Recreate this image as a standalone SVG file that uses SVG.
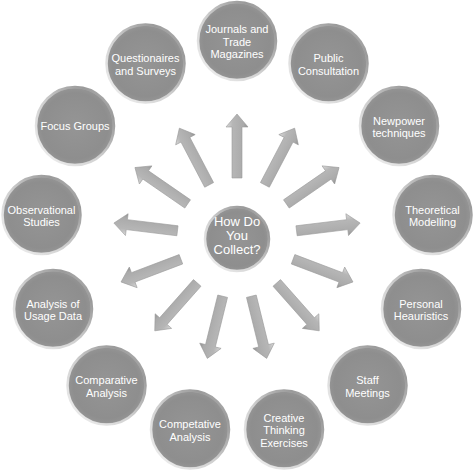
<svg xmlns="http://www.w3.org/2000/svg" xmlns:xlink="http://www.w3.org/1999/xlink" width="474" height="474" viewBox="0 0 474 474">
<style>
.node circle{fill:url(#ballFill);stroke:url(#rim);stroke-width:2.5}
.node text{font-family:"Liberation Sans",Arial,sans-serif;font-size:11px;fill:#ffffff;text-anchor:middle}
.center text{font-size:13px}
.arrow{fill:url(#arrowFill);stroke:#9a9a9a;stroke-width:0.6}
</style>
<defs>
<radialGradient id="ballFill" cx="0.5" cy="0.5" r="0.5">
<stop offset="0" stop-color="#959595"/>
<stop offset="0.85" stop-color="#8e8e8e"/>
<stop offset="0.95" stop-color="#939393"/>
<stop offset="1" stop-color="#b4b4b4"/>
</radialGradient>
<linearGradient id="rim" x1="0" y1="1" x2="1" y2="0">
<stop offset="0" stop-color="#f4f4f4"/>
<stop offset="0.45" stop-color="#d0d0d0"/>
<stop offset="0.8" stop-color="#9a9a9a"/>
<stop offset="1" stop-color="#c0c0c0"/>
</linearGradient>
<linearGradient id="arrowFill" x1="0" y1="0" x2="0" y2="1">
<stop offset="0" stop-color="#dadada"/>
<stop offset="0.3" stop-color="#b6b6b6"/>
<stop offset="0.8" stop-color="#aaaaaa"/>
<stop offset="1" stop-color="#8e8e8e"/>
</linearGradient>
<path id="arr" d="M60,-5 L111,-5 L111,-11 L124,0 L111,11 L111,5 L60,5 Z"/>
</defs>
<g id="connectors">
<use xlink:href="#arr" class="arrow" transform="translate(237,238) rotate(-90)"/>
<use xlink:href="#arr" class="arrow" transform="translate(237,238) rotate(-62.31)"/>
<use xlink:href="#arr" class="arrow" transform="translate(237,238) rotate(-34.62)"/>
<use xlink:href="#arr" class="arrow" transform="translate(237,238) rotate(-6.92)"/>
<use xlink:href="#arr" class="arrow" transform="translate(237,238) rotate(20.77)"/>
<use xlink:href="#arr" class="arrow" transform="translate(237,238) rotate(48.46)"/>
<use xlink:href="#arr" class="arrow" transform="translate(237,238) rotate(76.15)"/>
<use xlink:href="#arr" class="arrow" transform="translate(237,238) rotate(103.85)"/>
<use xlink:href="#arr" class="arrow" transform="translate(237,238) rotate(131.54)"/>
<use xlink:href="#arr" class="arrow" transform="translate(237,238) rotate(159.23)"/>
<use xlink:href="#arr" class="arrow" transform="translate(237,238) rotate(186.92)"/>
<use xlink:href="#arr" class="arrow" transform="translate(237,238) rotate(214.62)"/>
<use xlink:href="#arr" class="arrow" transform="translate(237,238) rotate(242.31)"/>
</g>
<g id="center" class="node center">
<circle cx="237" cy="239" r="32"/>
<text x="237" y="226">How Do</text>
<text x="237" y="240">You</text>
<text x="237" y="254">Collect?</text>
</g>
<g id="journals" class="node"><circle cx="237" cy="41" r="39"/>
<text x="237" y="33">Journals and</text><text x="237" y="45.5">Trade</text><text x="237" y="58">Magazines</text></g>
<g id="public" class="node"><circle cx="328.5" cy="63.6" r="39"/>
<text x="328.5" y="62">Public</text><text x="328.5" y="74.5">Consultation</text></g>
<g id="newpower" class="node"><circle cx="399" cy="126" r="39"/>
<text x="399" y="124.5">Newpower</text><text x="399" y="137">techniques</text></g>
<g id="theoretical" class="node"><circle cx="432.5" cy="215" r="39"/>
<text x="432.5" y="213.5">Theoretical</text><text x="432.5" y="226">Modelling</text></g>
<g id="personal" class="node"><circle cx="421" cy="309" r="39"/>
<text x="421" y="307.5">Personal</text><text x="421" y="320">Heauristics</text></g>
<g id="staff" class="node"><circle cx="367.5" cy="385.5" r="39"/>
<text x="367.5" y="384">Staff</text><text x="367.5" y="396.5">Meetings</text></g>
<g id="creative" class="node"><circle cx="284" cy="429.5" r="39"/>
<text x="284" y="421.5">Creative</text><text x="284" y="434">Thinking</text><text x="284" y="446.5">Exercises</text></g>
<g id="competative" class="node"><circle cx="190" cy="429.5" r="39"/>
<text x="190" y="428">Competative</text><text x="190" y="440.5">Analysis</text></g>
<g id="comparative" class="node"><circle cx="106.5" cy="385.5" r="39"/>
<text x="106.5" y="384">Comparative</text><text x="106.5" y="396.5">Analysis</text></g>
<g id="usage" class="node"><circle cx="53" cy="309" r="39"/>
<text x="53" y="307.5">Analysis of</text><text x="53" y="320">Usage Data</text></g>
<g id="observational" class="node"><circle cx="41.5" cy="215" r="39"/>
<text x="41.5" y="213.5">Observational</text><text x="41.5" y="226">Studies</text></g>
<g id="focus" class="node"><circle cx="75" cy="126" r="39"/>
<text x="75" y="130">Focus Groups</text></g>
<g id="questionaires" class="node"><circle cx="145.5" cy="63.6" r="39"/>
<text x="145.5" y="62">Questionaires</text><text x="145.5" y="74.5">and Surveys</text></g>
</svg>
